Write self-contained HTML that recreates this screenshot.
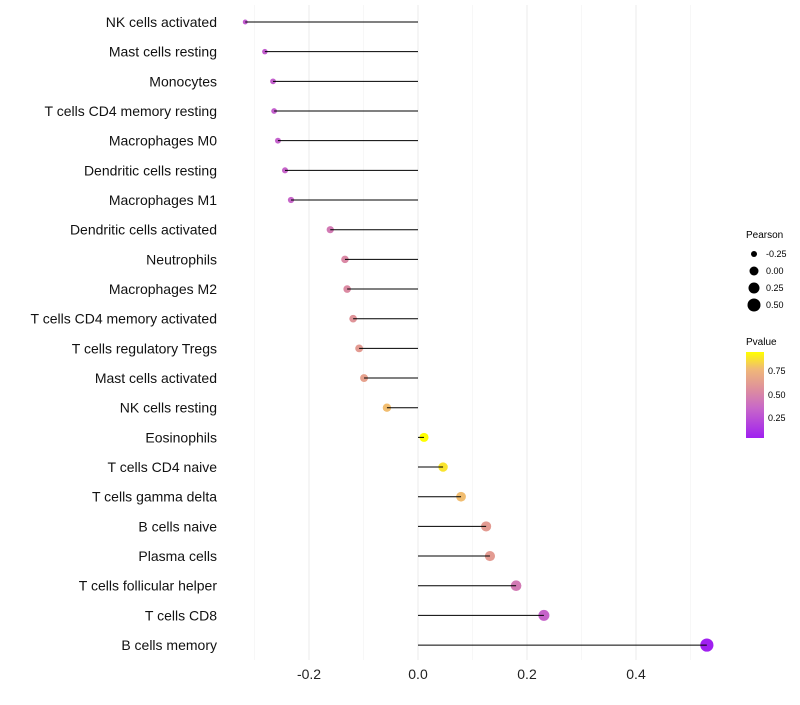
<!DOCTYPE html>
<html><head><meta charset="utf-8"><style>
body{margin:0;background:#fff;font-family:"Liberation Sans",sans-serif}
</style></head><body>
<svg id="chart" width="800" height="700" xmlns="http://www.w3.org/2000/svg">
<defs><linearGradient id="pg" x1="0" y1="1" x2="0" y2="0">
<stop offset="0" stop-color="#a020f0"/><stop offset="0.35" stop-color="#c868c8"/><stop offset="0.55" stop-color="#dc8ca0"/><stop offset="0.8" stop-color="#f0b878"/><stop offset="1" stop-color="#ffff00"/></linearGradient></defs>
<g id="grid"></g><g id="marks"></g><g id="stems"></g><g id="labels"></g>
<g font-size="9" fill="#000">
<text x="746" y="238" font-size="10">Pearson</text>
<circle cx="754" cy="254" r="3"/><text x="766" y="257">-0.25</text>
<circle cx="754" cy="271" r="4.5"/><text x="766" y="274">0.00</text>
<circle cx="754" cy="288" r="5.5"/><text x="766" y="291">0.25</text>
<circle cx="754" cy="305" r="6.5"/><text x="766" y="308">0.50</text>
</g>
<g font-size="9" fill="#000">
<text x="746" y="345" font-size="10">Pvalue</text>
<rect x="746" y="352" width="18" height="86" fill="url(#pg)"/>
<text x="768" y="374">0.75</text><text x="768" y="398">0.50</text><text x="768" y="421">0.25</text>
</g>
</svg>
<script>
const categories=["NK cells activated","Mast cells resting","Monocytes","T cells CD4 memory resting","Macrophages M0","Dendritic cells resting","Macrophages M1","Dendritic cells activated","Neutrophils","Macrophages M2","T cells CD4 memory activated","T cells regulatory  Tregs ","Mast cells activated","NK cells resting","Eosinophils","T cells CD4 naive","T cells gamma delta","B cells naive","Plasma cells","T cells follicular helper","T cells CD8","B cells memory"];
const pearson=[-0.317,-0.281,-0.266,-0.264,-0.257,-0.244,-0.233,-0.161,-0.134,-0.130,-0.119,-0.108,-0.099,-0.057,0.011,0.046,0.079,0.125,0.132,0.180,0.231,0.530];
const pvalues=[0.30,0.31,0.32,0.32,0.33,0.34,0.35,0.45,0.52,0.53,0.58,0.62,0.65,0.78,0.95,0.88,0.78,0.62,0.62,0.45,0.34,0.03];
const xTicks=[-0.2,0.0,0.2,0.4];
const xMinor=[-0.3,-0.1,0.1,0.3,0.5];
const NS="http://www.w3.org/2000/svg";
const x=v=>418+v*545;
const y=i=>22+i*29.67;
const rad=v=>Math.sqrt(Math.max(4,20.1+44.3*v));
function col(p){const st=[[0,[160,32,240]],[0.35,[200,104,200]],[0.55,[220,140,160]],[0.8,[240,184,120]],[1,[255,255,0]]];
const t=Math.min(1,Math.max(0,(p-0.04)/0.91));
for(let k=1;k<st.length;k++){if(t<=st[k][0]){const a=st[k-1],b=st[k],f=(t-a[0])/(b[0]-a[0]);return "rgb("+a[1].map((c,j)=>Math.round(c+(b[1][j]-c)*f)).join(",")+")";}}return "rgb(255,255,0)";}
function mk(tag,at,parent){const e=document.createElementNS(NS,tag);for(const k in at)e.setAttribute(k,at[k]);parent.appendChild(e);return e;}
const g=document.getElementById("grid"),m=document.getElementById("marks"),sg=document.getElementById("stems"),l=document.getElementById("labels");
xMinor.forEach(v=>{const e=mk("line",{x1:x(v),x2:x(v),y1:5,y2:660,stroke:"#f2f2f2","stroke-width":0.6},g);

});
xTicks.forEach(v=>{const e=mk("line",{x1:x(v),x2:x(v),y1:5,y2:660,stroke:"#ebebeb","stroke-width":1},g);


const t=mk("text",{x:x(v),y:679,"text-anchor":"middle","font-size":14,fill:"#222"},l);t.textContent=v.toFixed(1);

});
categories.forEach((c,i)=>{const t=mk("text",{x:217,y:y(i)+5,"text-anchor":"end","font-size":14,fill:"#111"},l);t.textContent=c;


const d=mk("circle",{cx:x(pearson[i]),cy:y(i),r:rad(pearson[i]),fill:col(pvalues[i])},m);


const s=mk("line",{x1:x(0),x2:x(pearson[i]),y1:y(i),y2:y(i),stroke:"#000","stroke-width":1},sg);

});
</script>
</body></html>
